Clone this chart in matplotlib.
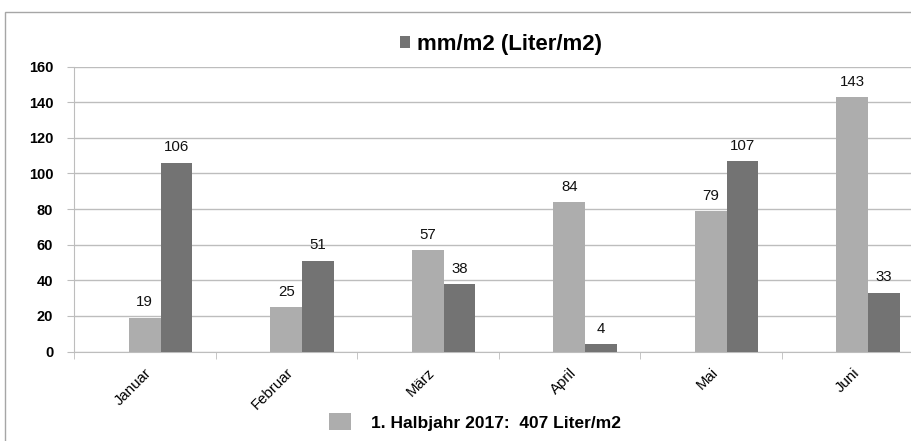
import matplotlib.pyplot as plt
from matplotlib.patches import Rectangle
import numpy as np

plt.rcParams['font.family'] = ['Liberation Sans', 'DejaVu Sans']

months = ["Januar", "Februar", "März", "April", "Mai", "Juni"]
light_vals = [19, 25, 57, 84, 79, 143]   # 1. Halbjahr 2017
dark_vals = [106, 51, 38, 4, 107, 33]    # mm/m2 (Liter/m2)
y_ticks = [0, 20, 40, 60, 80, 100, 120, 140, 160]

light_col = "#adadad"
dark_col = "#737373"
grid_col = "#bdbdbd"

fig = plt.figure(figsize=(9.12, 4.41), dpi=100)
ax = fig.add_axes([74 / 912, 1 - 351.5 / 441, 849 / 912, 284.8 / 441])

x = np.arange(len(months))
w = 0.223
# light bar sits on the category centre, dark bar right of it
b1 = ax.bar(x, light_vals, w, color=light_col, zorder=3)
b2 = ax.bar(x + w, dark_vals, w, color=dark_col, zorder=3)

for bars, vals in [(b1, light_vals), (b2, dark_vals)]:
    for r, v in zip(bars, vals):
        ax.annotate(str(v), (r.get_x() + r.get_width() / 2, v), xytext=(0, 6),
                    textcoords="offset points", ha="center", va="bottom",
                    fontsize=10.8, color="#111111")

ax.set_xlim(-0.5, len(months) - 0.5)
ax.set_ylim(0, 160)
ax.set_yticks(y_ticks)
ax.set_yticklabels([str(t) for t in y_ticks], fontsize=10.5, fontweight="bold")
ax.yaxis.grid(True, color=grid_col, lw=1, zorder=0)
ax.set_axisbelow(True)

ax.set_xticks(x)
ax.set_xticklabels(months, rotation=45, ha="right", va="top",
                   rotation_mode="anchor", fontsize=10.8)
ax.tick_params(axis="x", length=0, pad=10)
ax.set_xticks(np.arange(-0.5, len(months), 1), minor=True)
ax.tick_params(axis="x", which="minor", length=5, color=grid_col)
ax.tick_params(axis="y", length=5, color=grid_col, pad=10)

for s in ["top", "right"]:
    ax.spines[s].set_visible(False)
for s in ["left", "bottom"]:
    ax.spines[s].set_color(grid_col)

fig.legend([b2], ["mm/m2 (Liter/m2)"], loc="center", bbox_to_anchor=(0.549, 0.90),
           frameon=False, handlelength=0.45, handleheight=0.45, handletextpad=0.3,
           prop={"size": 16, "weight": "bold"})
fig.legend([b1], ["1. Halbjahr 2017:  407 Liter/m2"], loc="center",
           bbox_to_anchor=(0.521, 0.043), frameon=False, handlelength=1.3,
           handleheight=1.1, handletextpad=1.15, prop={"size": 12.5, "weight": "bold"})

fig.add_artist(Rectangle((5 / 912, -0.1), 1.2, 1.1 - 12 / 441, transform=fig.transFigure,
                         fill=False, edgecolor="#a6a6a6", lw=1))

fig.savefig("out.png", dpi=100)
